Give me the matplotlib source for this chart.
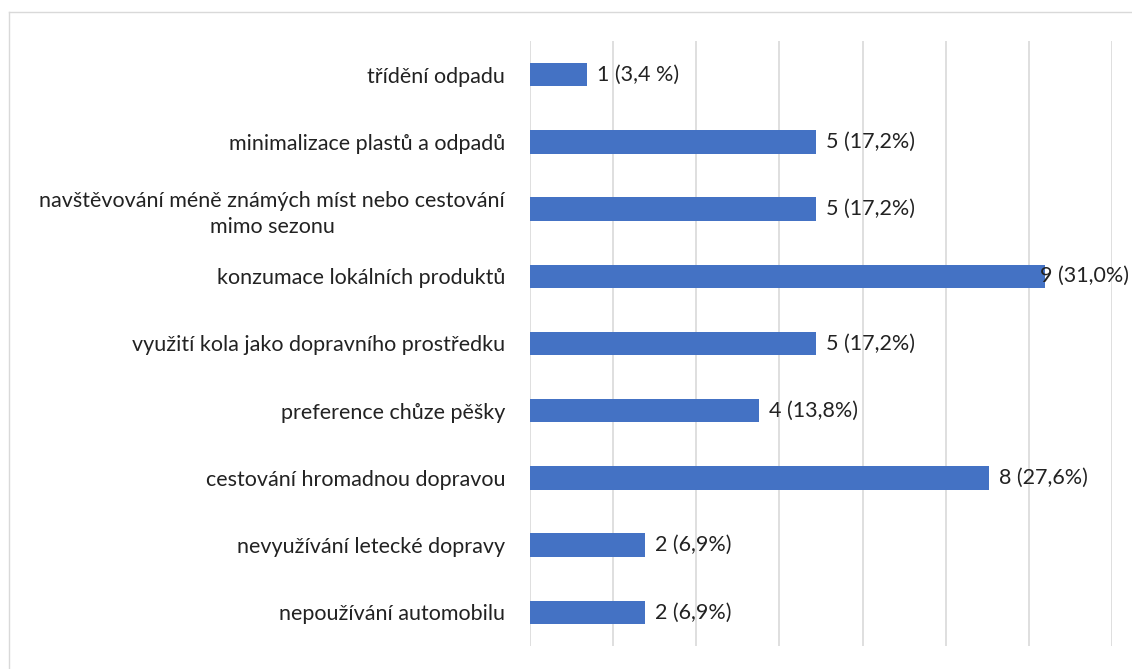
import matplotlib
matplotlib.use('Agg')
import matplotlib.pyplot as plt
from matplotlib.lines import Line2D

categories = [
    'třídění odpadu',
    'minimalizace plastů a odpadů',
    'navštěvování méně známých míst nebo cestování\nmimo sezonu',
    'konzumace lokálních produktů',
    'využití kola jako dopravního prostředku',
    'preference chůze pěšky',
    'cestování hromadnou dopravou',
    'nevyužívání letecké dopravy',
    'nepoužívání automobilu',
]
counts = [1, 5, 5, 9, 5, 4, 8, 2, 2]
percents = [3.4, 17.2, 17.2, 31.0, 17.2, 13.8, 27.6, 6.9, 6.9]
value_labels = ['1 (3,4 %)', '5 (17,2%)', '5 (17,2%)', '9 (31,0%)', '5 (17,2%)',
                '4 (13,8%)', '8 (27,6%)', '2 (6,9%)', '2 (6,9%)']

plt.rcParams['font.family'] = ['Lato', 'DejaVu Sans']
FS = 15.5

fig = plt.figure(figsize=(11.32, 6.69), dpi=100)
ax = fig.add_axes([530 / 1132, 1 - 646 / 669, 582 / 1132, 605 / 669])

ypos = list(range(len(categories)))
ax.barh(ypos, percents, height=0.35, color='#4472C4', zorder=3)

for y, p, lab in zip(ypos, percents, value_labels):
    off = 0.6 if p < 30 else -0.3
    ax.text(p + off, y, lab, va='center', ha='left', fontsize=FS, color='#222222', zorder=4)

ax.set_xlim(0, 35)
ax.set_ylim(len(categories) - 0.5, -0.5)
ax.set_xticks(range(0, 36, 5))
ax.set_xticklabels([])
ax.set_yticks(ypos)
ax.set_yticklabels(categories, fontsize=FS, color='#222222',
                   multialignment='center', linespacing=1.35)
ax.tick_params(axis='both', length=0)
ax.tick_params(axis='y', pad=18)
ax.grid(axis='x', color='#d9d9d9', linewidth=1.2, zorder=0)
for s in ax.spines.values():
    s.set_visible(False)

# outer chart border (top and left visible)
fig.add_artist(Line2D([8.5 / 1132, 1], [1 - 11.5 / 669, 1 - 11.5 / 669],
                      transform=fig.transFigure, color='#d9d9d9', linewidth=1))
fig.add_artist(Line2D([8.5 / 1132, 8.5 / 1132], [0, 1 - 11.5 / 669],
                      transform=fig.transFigure, color='#d9d9d9', linewidth=1))

fig.savefig('out.png', dpi=100)
